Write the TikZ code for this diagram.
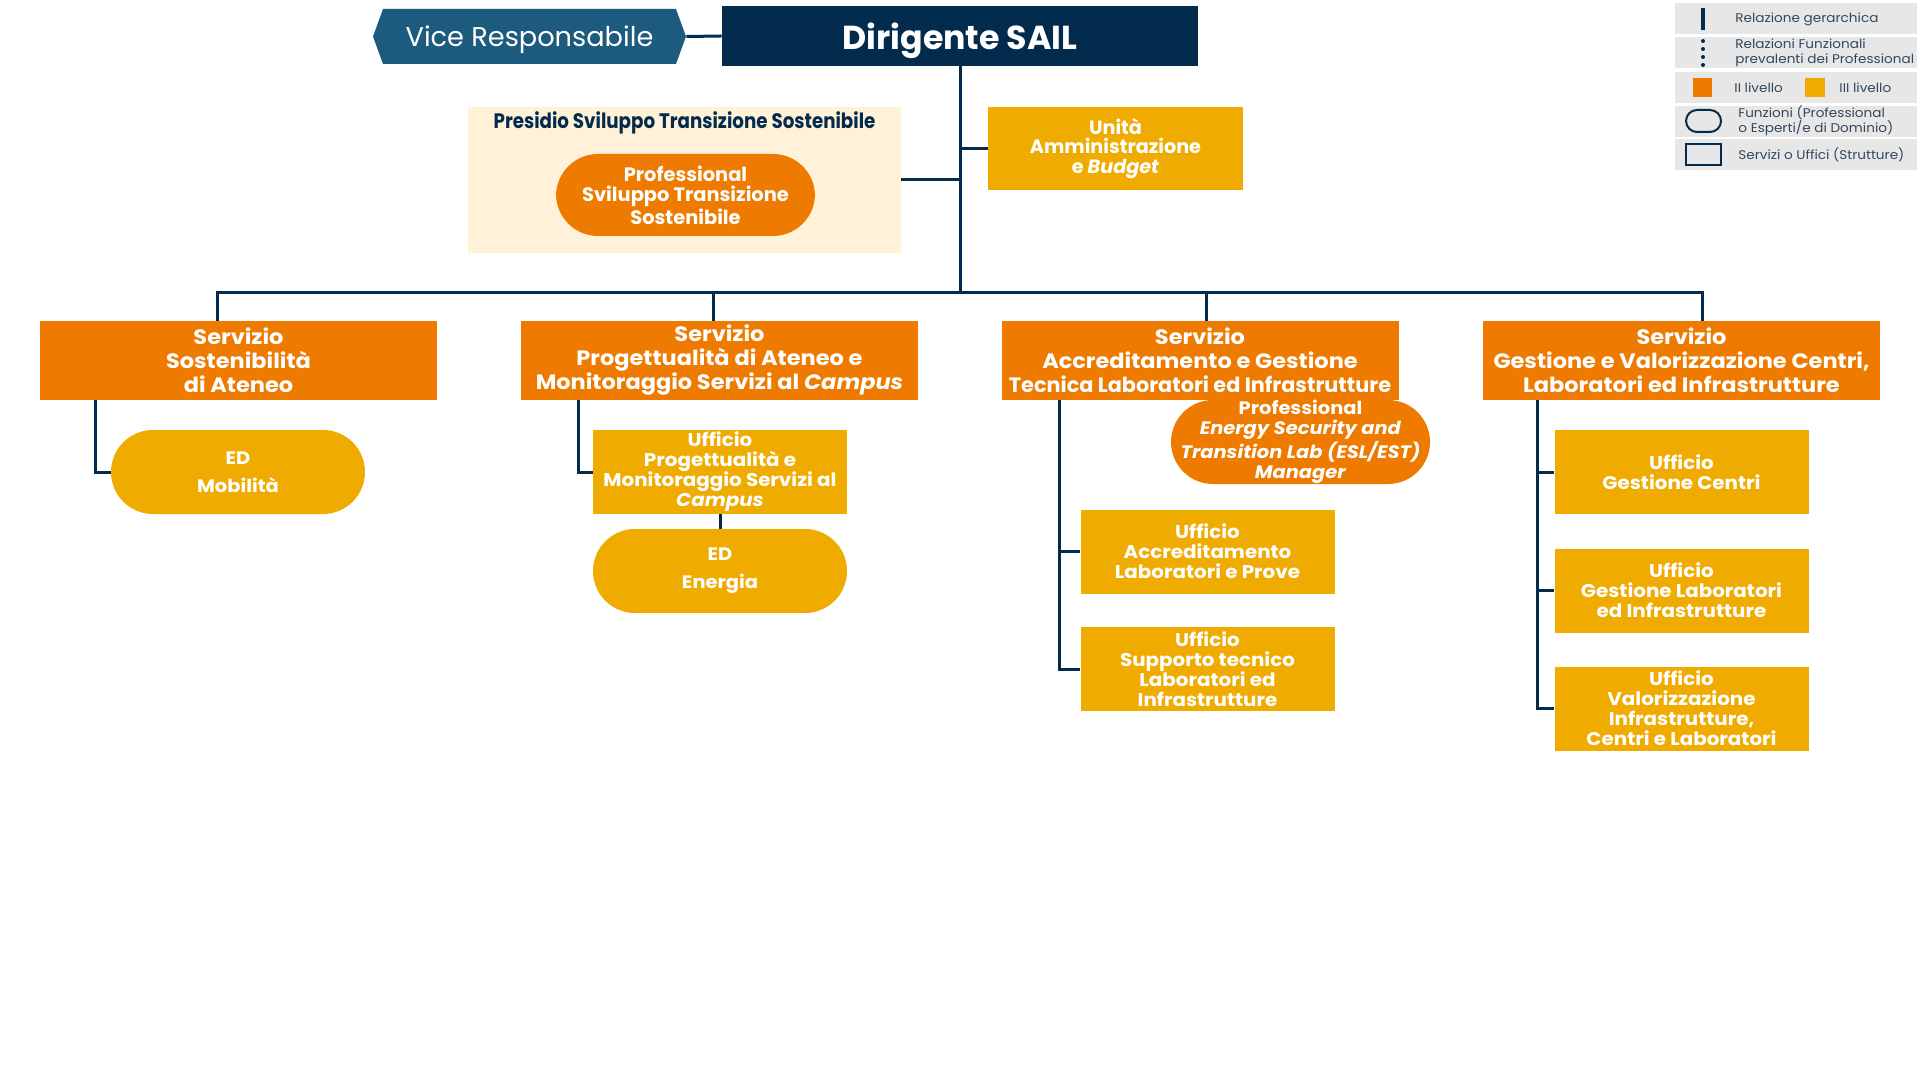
\documentclass[tikz,border=0pt]{standalone}
\usepackage{fontspec}
\setmainfont{Poppins}[FakeStretch=1.08]
\newfontfamily\plainfont{Poppins}
\newfontfamily\narrowfont[FakeStretch=0.87]{Poppins}
\usetikzlibrary{positioning,shapes.symbols}

\definecolor{navy}{HTML}{032B4D}
\definecolor{vicecol}{HTML}{1C5A7E}
\definecolor{orangeII}{HTML}{EE7B00}
\definecolor{yellowIII}{HTML}{F0AB00}
\definecolor{cream}{HTML}{FFF2D9}
\definecolor{leggray}{HTML}{E7E7E7}
\definecolor{legtext}{HTML}{33475B}

\tikzset{
  link/.style={draw=navy, line width=1.5pt},
  struct/.style={rectangle, inner sep=0pt, align=center, text=white},
  funz/.style={rectangle, rounded corners=21pt, inner sep=0pt, align=center, text=white},
  lvII/.style={fill=orangeII},
  lvIII/.style={fill=yellowIII},
  servbox/.style={struct, lvII, minimum width=198.5pt, minimum height=39.5pt, font=\bfseries\fontsize{10.4}{12}\selectfont},
  uffbox/.style={struct, lvIII, minimum width=127pt, minimum height=42pt, font=\bfseries\fontsize{9.2}{10}\selectfont},
  edbox/.style={funz, lvIII, minimum width=127pt, minimum height=42pt, font=\bfseries\fontsize{9}{14}\selectfont},
  legrow/.style={fill=leggray, minimum width=121pt, minimum height=15.5pt, inner sep=0pt},
  legtxt/.style={text=legtext, font=\fontsize{6.3}{7.6}\selectfont, align=left, anchor=west, inner sep=0pt}
}

\begin{document}
\begin{tikzpicture}[x=0.5pt, y=-0.5pt]
\useasboundingbox (0,0) rectangle (1920,1080);

% vertice
\node[struct, fill=navy, minimum width=238pt, minimum height=30pt, text depth=0pt, font=\plainfont\bfseries\fontsize{16.6}{19}\selectfont] (dir) at (960,36) {Dirigente SAIL};
\node[signal, signal to=west and east, signal pointer angle=140, fill=vicecol, text=white, minimum width=156.5pt, minimum height=27.5pt, inner sep=0pt, text depth=0pt, font=\plainfont\fontsize{13.6}{16}\selectfont] (vice) at (529.5,36.5) {Vice Responsabile};
\draw[link] (vice.east) -- (dir.west);

% presidio e staff
\node[fill=cream, minimum width=216.5pt, minimum height=73pt, inner sep=0pt] (pres) at (684.5,180) {};
\node[text=navy, inner sep=0pt, font=\narrowfont\bfseries\fontsize{10.5}{12}\selectfont] (prestit) at (684.5,122.5) {Presidio Sviluppo Transizione Sostenibile};
\node[funz, lvII, minimum width=129.5pt, minimum height=41pt, font=\plainfont\bfseries\fontsize{9.7}{10}\selectfont] (prst) at (685.5,195) {Professional\\Sviluppo Transizione\\Sostenibile};
\node[struct, lvIII, minimum width=127.5pt, minimum height=41.5pt, font=\plainfont\bfseries\fontsize{9.6}{9.8}\selectfont] (una) at (1115.5,148.5) {Unità\\Amministrazione\\e \textit{Budget}};

\coordinate (bus) at (960,293);
\draw[link] (dir.south) -- (bus);
\draw[link] (pres.east) -- (pres.east -| dir.south);
\draw[link] (una.west) -- (una.west -| dir.south);

% servizi
\node[servbox] (sv1) at (238.5,360.5) {Servizio\\Sostenibilità\\di Ateneo};
\node[servbox] (sv2) at (719.5,360.5) {Servizio\\Progettualità di Ateneo e\\Monitoraggio Servizi al \textit{Campus}};
\node[servbox] (sv3) at (1200,360.5) {Servizio\\Accreditamento e Gestione\\{\plainfont Tecnica Laboratori ed Infrastrutture}};
\node[servbox] (sv4) at (1681.5,360.5) {Servizio\\Gestione e Valorizzazione Centri,\\Laboratori ed Infrastrutture};

\draw[link] ([xshift=-10.75pt]sv1.north) |- (bus);
\draw[link] ([xshift=-3.25pt]sv2.north) |- (bus);
\draw[link] ([xshift=3pt]sv3.north) |- (bus);
\draw[link] ([xshift=10.25pt]sv4.north) |- (bus);

% colonna 1
\node[edbox] (mob) at (238,472) {ED\\Mobilità};
\draw[link] ([xshift=-71.75pt]sv1.south) |- (mob.west);

% colonna 2
\node[uffbox] (upg) at (720,472) {Ufficio\\Progettualità e\\Monitoraggio Servizi al\\\textit{Campus}};
\node[edbox] (ene) at (720,571) {ED\\Energia};
\draw[link] ([xshift=-70.75pt]sv2.south) |- (upg.west);
\draw[link] (upg.south) -- (ene.north);

% colonna 3
\node[funz, lvII, minimum width=129.5pt, minimum height=42pt, font=\bfseries\fontsize{9}{10}\selectfont] (esl) at (1300.5,442) {Professional\\\textit{Energy Security and}\\\textit{Transition Lab (ESL/EST)}\\\textit{Manager}};
\node[uffbox] (uac) at (1207.5,551.5) {Ufficio\\Accreditamento\\Laboratori e Prove};
\node[uffbox] (uss) at (1207.5,669) {Ufficio\\Supporto tecnico\\Laboratori ed\\Infrastrutture};
\draw[link] ([xshift=-70.5pt]sv3.south) |- (uac.west);
\draw[link] ([xshift=-70.5pt]sv3.south) |- (uss.west);

% colonna 4
\node[uffbox] (ugc) at (1681.5,472) {Ufficio\\Gestione Centri};
\node[uffbox] (ugl) at (1681.5,590.5) {Ufficio\\Gestione Laboratori\\ed Infrastrutture};
\node[uffbox] (uvi) at (1681.5,708.5) {Ufficio\\Valorizzazione\\Infrastrutture,\\Centri e Laboratori};
\draw[link] ([xshift=-72.25pt]sv4.south) |- (ugc.west);
\draw[link] ([xshift=-72.25pt]sv4.south) |- (ugl.west);
\draw[link] ([xshift=-72.25pt]sv4.south) |- (uvi.west);

% legenda
\foreach \y [count=\i] in {18.5,52.5,87.5,121.5,154.5}
  \node[legrow] (leg\i) at (1796,\y) {};
\draw[navy, line width=1.6pt] (1703,8) -- (1703,30);
\foreach \y in {41,49,57,65} \fill[navy] (1703,\y) circle (1pt);
\fill[orangeII] (1693,78) rectangle (1712,97);
\fill[yellowIII] (1805,78) rectangle (1825,97);
\draw[navy, line width=1pt, rounded corners=5.5pt] (1686,110) rectangle (1721,132);
\draw[navy, line width=1pt] (1686,144) rectangle (1721,165);
\node[legtxt] (lt1) at (1735,19) {Relazione gerarchica};
\node[legtxt] (lt2) at (1735,53) {Relazioni Funzionali\\prevalenti dei Professional};
\node[legtxt] (lt3) at (1734,87.5) {II livello};
\node[legtxt] (lt4) at (1839,87.5) {III livello};
\node[legtxt] (lt5) at (1738,121) {Funzioni (Professional\\o Esperti/e di Dominio)};
\node[legtxt] (lt6) at (1738,155) {Servizi o Uffici (Strutture)};
\end{tikzpicture}
\end{document}
